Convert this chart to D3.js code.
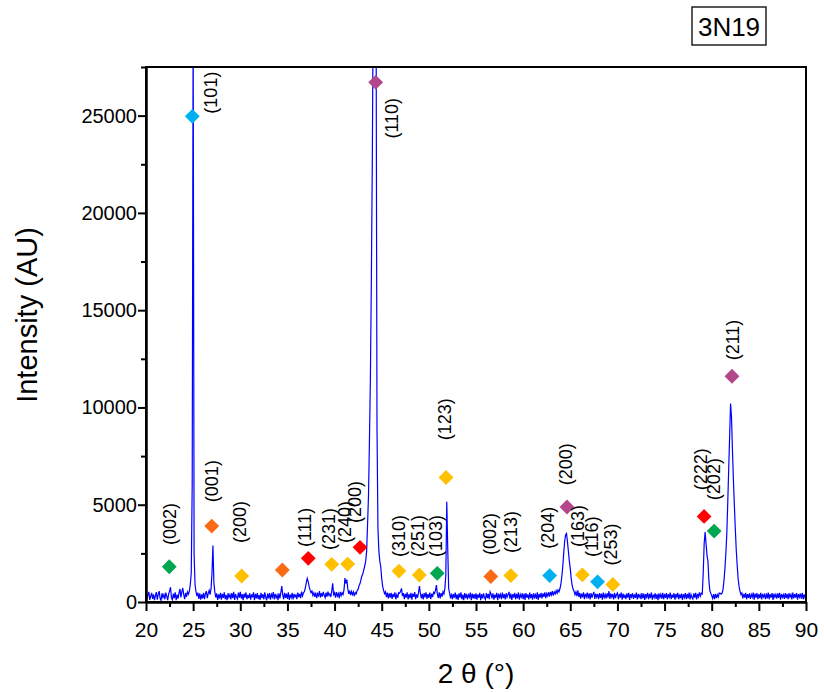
<!DOCTYPE html>
<html>
<head>
<meta charset="utf-8">
<script src="https://cdn.jsdelivr.net/npm/d3@7.9.0/dist/d3.min.js"></script>
<style>
  body { margin: 0; background: #fff; }
  text { font-family: Arial, "Liberation Sans", sans-serif; fill: #000; }
</style>
</head>
<body>
<svg id="chart" width="824" height="692"></svg>
<script>
// scan: 2θ from 20 to 90°, 0.1° step, counts
const scanStart = 20;
const scanStep = 0.1;

const counts20to30 = [
  420, 130, 360, 520, 110, 300, 470, 160, 390, 90,
  330, 510, 120, 400, 560, 180, 80, 450, 240, 380,
  140, 480, 300, 100, 410, 560, 760, 220, 120, 430,
  200, 500, 90, 380, 170, 460, 680, 230, 520, 720,
  380, 150, 470, 260, 520, 400, 560, 900, 1500, 6000,
  30000, 2500, 900, 540, 300, 480, 160, 450, 120, 390,
  180, 470, 140, 430, 560, 200, 440, 600, 380, 700,
  1500, 2900, 1000, 520, 230, 440, 110, 390, 180, 470,
  120, 420, 210, 500, 150, 360, 90, 450, 240, 380,
  130, 460, 200, 520, 110, 400, 250, 150, 480, 220
];
const counts30to40 = [
  520, 180, 400, 100, 430, 230, 490, 140, 370, 200,
  450, 120, 390, 240, 500, 90, 420, 180, 460, 150,
  360, 110, 470, 200, 410, 130, 500, 240, 90, 430,
  180, 460, 120, 390, 250, 510, 140, 420, 220, 360,
  100, 450, 190, 480, 820, 380, 140, 470, 210, 430,
  160, 500, 110, 380, 230, 470, 130, 420, 260, 360,
  150, 480, 250, 420, 200, 530, 310, 470, 540, 720,
  1000, 1215, 1050, 800, 620, 480, 560, 340, 470, 260,
  480, 200, 430, 320, 560, 230, 450, 280, 520, 360,
  220, 480, 270, 530, 340, 410, 260, 560, 960, 380
];
const counts40to50 = [
  480, 220, 510, 300, 440, 200, 520, 330, 470, 380,
  620, 1230, 950, 1150, 700, 420, 580, 350, 540, 380,
  520, 300, 480, 420, 600, 650, 850, 950, 1150, 1350,
  1450, 1650, 1850, 2100, 2600, 4000, 5500, 8300, 11500, 16500,
  22400, 31000, 31000, 31000, 31000, 9000, 3800, 2600, 2100, 1800,
  1200, 800, 600, 430, 520, 250, 480, 180, 450, 220,
  470, 160, 420, 250, 500, 140, 380, 230, 480, 450,
  550, 700, 300, 460, 150, 420, 230, 500, 130, 400,
  200, 470, 120, 430, 260, 510, 150, 390, 230, 480,
  820, 450, 180, 420, 130, 460, 240, 500, 160, 400
];
const counts50to60 = [
  220, 480, 140, 430, 250, 500, 440, 600, 870, 420,
  210, 490, 180, 460, 280, 530, 420, 700, 1400, 5150,
  2800, 700, 450, 180, 430, 140, 410, 230, 480, 150,
  390, 110, 440, 230, 500, 140, 380, 90, 460, 200,
  420, 130, 370, 250, 480, 100, 430, 190, 400, 160,
  450, 120, 390, 220, 470, 90, 410, 180, 440, 230,
  130, 460, 200, 420, 150, 520, 400, 190, 450, 120,
  380, 220, 470, 100, 430, 240, 390, 150, 480, 200,
  410, 130, 450, 250, 380, 520, 170, 430, 110, 400,
  230, 470, 140, 420, 190, 490, 120, 380, 250, 440
];
const counts60to70 = [
  150, 430, 110, 460, 220, 390, 130, 480, 200, 410,
  120, 450, 240, 380, 160, 500, 110, 420, 230, 470,
  180, 440, 260, 490, 200, 430, 310, 500, 280, 520,
  360, 560, 330, 520, 420, 580, 450, 620, 520, 680,
  900, 1300, 1800, 2500, 3100, 3450, 3520, 3100, 2600, 2100,
  1700, 1200, 850, 650, 560, 380, 520, 300, 600, 260,
  470, 170, 430, 240, 500, 150, 420, 260, 480, 190,
  440, 130, 460, 220, 390, 520, 160, 430, 250, 400,
  150, 460, 210, 430, 120, 480, 240, 390, 180, 450,
  230, 560, 160, 440, 250, 410, 130, 470, 200, 380
];
const counts70to80 = [
  460, 140, 410, 230, 490, 120, 430, 200, 380, 150,
  440, 220, 470, 110, 400, 260, 450, 160, 390, 210,
  480, 130, 420, 240, 370, 150, 460, 190, 430, 110,
  400, 250, 470, 140, 420, 200, 490, 120, 380, 230,
  450, 160, 410, 100, 440, 230, 390, 170, 470, 140,
  420, 210, 460, 130, 400, 250, 480, 150, 380, 220,
  450, 120, 410, 260, 470, 140, 390, 200, 430, 110,
  400, 240, 460, 150, 420, 190, 480, 130, 390, 250,
  160, 440, 220, 470, 130, 410, 260, 490, 300, 450,
  420, 1500, 3000, 3600, 3000, 2400, 2100, 1100, 600, 450
];
const counts80to90 = [
  330, 180, 400, 150, 420, 200, 380, 260, 460, 450,
  400, 450, 650, 1100, 1700, 2500, 3500, 5100, 6800, 8500,
  10200, 9500, 7800, 6300, 5000, 3800, 2700, 1900, 1200, 800,
  550, 380, 460, 180, 420, 230, 470, 140, 400, 210,
  450, 160, 390, 250, 480, 120, 430, 220, 460, 150,
  410, 200, 470, 130, 420, 260, 380, 150, 450, 190,
  480, 140, 400, 230, 460, 110, 430, 250, 390, 170,
  440, 210, 470, 120, 410, 240, 380, 160, 460, 200,
  420, 150, 450, 260, 390, 130, 480, 190, 410, 230,
  460, 120, 400, 250, 430, 170, 470, 140, 390, 220,
  280
];

// phase markers
const markerTheta  = [22.47, 24.91, 26.97, 30.15, 34.46, 37.21, 39.70, 41.39, 42.70, 44.36, 46.83, 48.99,
                      50.89, 51.82, 56.57, 58.69, 62.81, 64.65, 66.28, 67.89, 69.51, 79.19, 80.26, 82.15];
const markerCounts = [1812, 24964, 3901, 1335, 1643, 2243, 1935, 1951, 2808, 26710, 1591, 1386,
                      1473, 6401, 1309, 1360, 1360, 4882, 1396, 1037, 898, 4399, 3645, 11602];
const markerPhase  = ['P1', 'P2', 'P3', 'P4', 'P3', 'P5', 'P4', 'P4', 'P5', 'P6', 'P4', 'P4',
                      'P1', 'P4', 'P3', 'P4', 'P2', 'P6', 'P4', 'P2', 'P4', 'P5', 'P1', 'P6'];

// hkl labels
const labelText   = ['(002)', '(101)', '(001)', '(200)', '(111)', '(231)', '(240)', '(200)', '(110)',
                     '(310)', '(251)', '(103)', '(123)', '(002)', '(213)', '(204)', '(200)', '(163)',
                     '(116)', '(253)', '(222)', '(202)', '(211)'];
const labelTheta  = [22.47, 26.89, 26.97, 29.97, 36.86, 39.41, 41.11, 42.17, 46.06,
                     46.76, 48.77, 50.76, 51.71, 56.42, 58.71, 62.59, 64.55, 65.79,
                     67.30, 69.27, 78.84, 80.24, 82.26];
const labelCounts = [2926, 25103, 5133, 3029, 2823, 2669, 3029, 4055, 23819,
                     2310, 2310, 2310, 8316, 2413, 2515, 2736, 6006, 2823,
                     2310, 1879, 5749, 5236, 12423];

const xTicks = [20, 25, 30, 35, 40, 45, 50, 55, 60, 65, 70, 75, 80, 85, 90];
const yTicks = [0, 5000, 10000, 15000, 20000, 25000];

const sampleName = '3N19';

const counts = [].concat(counts20to30, counts30to40, counts40to50, counts50to60,
                         counts60to70, counts70to80, counts80to90);
const scan = counts.map((c, i) => ({ theta: scanStart + i * scanStep, counts: c }));

const svg = d3.select('#chart');
const margin = { left: 146, right: 18, top: 67, bottom: 90 };
const W = 824, H = 692;

const x = d3.scaleLinear().domain([20, 90]).range([margin.left, W - margin.right]);
const y = d3.scaleLinear().domain([0, 27500]).range([H - margin.bottom, margin.top]);

svg.append('clipPath').attr('id', 'plotClip')
  .append('rect')
  .attr('x', margin.left).attr('y', margin.top)
  .attr('width', x(90) - x(20)).attr('height', y(0) - y(27500));

const line = d3.line().x(d => x(d.theta)).y(d => y(d.counts));

svg.append('path')
  .datum(scan)
  .attr('clip-path', 'url(#plotClip)')
  .attr('fill', 'none')
  .attr('stroke', '#0000ff')
  .attr('stroke-width', 1.2)
  .attr('d', line);

// frame
svg.append('rect')
  .attr('x', x(20)).attr('y', y(27500))
  .attr('width', x(90) - x(20)).attr('height', y(0) - y(27500))
  .attr('fill', 'none').attr('stroke', '#000').attr('stroke-width', 2);

// x axis
const xMinor = xTicks.slice(0, -1).map(v => v + 2.5);
const xAxis = svg.append('g').attr('transform', `translate(0,${y(0)})`)
  .call(d3.axisBottom(x).tickValues(xTicks).tickSize(9).tickSizeOuter(0).tickPadding(11));
svg.append('g').attr('transform', `translate(0,${y(0)})`)
  .call(d3.axisBottom(x).tickValues(xMinor).tickSize(5).tickSizeOuter(0).tickFormat(''));

// y axis
const yMinor = yTicks.map(v => v + 2500);
const yAxis = svg.append('g').attr('transform', `translate(${x(20)},0)`)
  .call(d3.axisLeft(y).tickValues(yTicks).tickSize(8).tickSizeOuter(0).tickPadding(1).tickFormat(d3.format('d')));
svg.append('g').attr('transform', `translate(${x(20)},0)`)
  .call(d3.axisLeft(y).tickValues(yMinor).tickSize(5).tickSizeOuter(0).tickFormat(''));

svg.selectAll('.domain').attr('stroke-width', 2);
svg.selectAll('.tick line').attr('stroke-width', 2);
xAxis.selectAll('.tick text').attr('font-size', 21).attr('font-family', 'Arial, "Liberation Sans", sans-serif');
yAxis.selectAll('.tick text').attr('font-size', 20).attr('font-family', 'Arial, "Liberation Sans", sans-serif');

svg.append('text')
  .attr('x', (x(20) + x(90)) / 2).attr('y', 683)
  .attr('text-anchor', 'middle').attr('font-size', 28)
  .text('2 θ (°)');

svg.append('text')
  .attr('transform', `translate(37,315) rotate(-90)`)
  .attr('text-anchor', 'middle').attr('font-size', 29)
  .text('Intensity (AU)');

// markers
const phaseColor = d3.scaleOrdinal()
  .domain(['P1', 'P2', 'P3', 'P4', 'P5', 'P6'])
  .range(['#00a650', '#00b0f0', '#fa6a14', '#ffc000', '#ff0000', '#b4468c']);
const diamond = d3.symbol().type(d3.symbolSquare).size(110);

svg.append('g').selectAll('path')
  .data(markerTheta)
  .join('path')
  .attr('d', diamond)
  .attr('transform', (d, i) => `translate(${x(d)},${y(markerCounts[i])}) rotate(45)`)
  .attr('fill', (d, i) => phaseColor(markerPhase[i]));

svg.append('g').selectAll('text')
  .data(labelText)
  .join('text')
  .attr('transform', (d, i) => `translate(${x(labelTheta[i])},${y(labelCounts[i])}) rotate(-90)`)
  .attr('dy', '0.35em')
  .attr('font-size', 18)
  .text(d => d);

// sample name box
svg.append('rect')
  .attr('x', 692).attr('y', 7).attr('width', 74).attr('height', 38)
  .attr('fill', 'none').attr('stroke', '#222').attr('stroke-width', 1.5);
svg.append('text')
  .attr('x', 729).attr('y', 36)
  .attr('text-anchor', 'middle').attr('font-size', 26)
  .text(sampleName);
</script>
</body>
</html>
